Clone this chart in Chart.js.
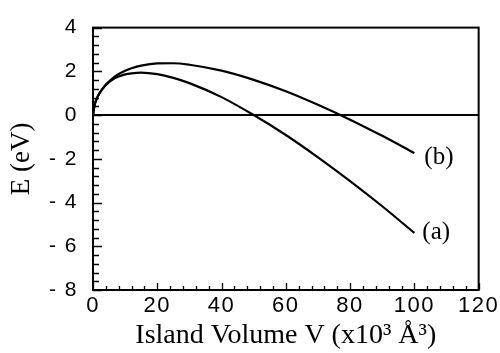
<!DOCTYPE html>
<html>
<head>
<meta charset="utf-8">
<script src="https://cdn.jsdelivr.net/npm/chart.js@4.4.1/dist/chart.umd.min.js"></script>
<style>
html,body{margin:0;padding:0;background:#fff;}
#wrap{width:500px;height:353px;}
</style>
</head>
<body>
<div id="wrap"><canvas id="c" width="500" height="353"></canvas></div>
<script>
// Island volume V (x10^3 Å^3)
const volumes = [0, 0.5, 1, 2, 4, 6, 8, 10, 12, 15, 20, 25, 30, 40, 50, 60, 70, 80, 90, 100];
// Curve (a) energy E (eV)
const energyA = [0, 0.48, 0.70, 1.00, 1.38, 1.61, 1.76, 1.86, 1.91, 1.94, 1.87, 1.70, 1.46, 0.82, 0.00, -0.91, -1.93, -3.02, -4.17, -5.39];
// Curve (b) energy E (eV)
const energyB = [0, 0.45, 0.68, 0.99, 1.40, 1.67, 1.88, 2.03, 2.14, 2.26, 2.36, 2.37, 2.30, 2.03, 1.61, 1.09, 0.47, -0.21, -0.95, -1.74];
const curveLabels = ['(a)', '(b)'];
const xTicks = [0, 20, 40, 60, 80, 100, 120];
const yTicks = [-8, -6, -4, -2, 0, 2, 4];
const zeroLine = [0, 120];

const ptsA = volumes.map((v, i) => ({x: v, y: energyA[i]}));
const ptsB = volumes.map((v, i) => ({x: v, y: energyB[i]}));

const framePlugin = {
  id: 'frame',
  afterDatasetsDraw(chart) {
    const ctx = chart.ctx;
    const a = chart.chartArea;
    const xs = chart.scales.x, ys = chart.scales.y;
    ctx.save();
    ctx.strokeStyle = '#000';
    ctx.lineWidth = 2;
    ctx.strokeRect(a.left, a.top, a.right - a.left, a.bottom - a.top);
    ctx.lineWidth = 1.3;
    ctx.beginPath();
    for (let v = 0; v <= 120; v += 4) {
      const px = Math.round(xs.getPixelForValue(v)) + 0.5;
      const len = (v % 20 === 0) ? 7 : 4;
      ctx.moveTo(px, a.bottom);
      ctx.lineTo(px, a.bottom - len);
    }
    for (let k = 0; k <= 30; k++) {
      const v = -8 + k * 0.4;
      const py = Math.round(ys.getPixelForValue(v)) + 0.5;
      const len = (k % 5 === 0) ? 9 : 6;
      ctx.moveTo(a.left, py);
      ctx.lineTo(a.left + len, py);
    }
    ctx.stroke();
    ctx.restore();
    ctx.letterSpacing = '1.5px';
  },
  afterDraw(chart) {
    const ctx = chart.ctx;
    ctx.letterSpacing = '0px';
    const xs = chart.scales.x, ys = chart.scales.y;
    ctx.save();
    ctx.fillStyle = '#000';
    ctx.font = '25px "Liberation Serif", "Times New Roman", serif';
    ctx.textBaseline = 'middle';
    ctx.textAlign = 'left';
    const lastV = volumes[volumes.length - 1];
    const ya = ys.getPixelForValue(energyA[energyA.length - 1]);
    const yb = ys.getPixelForValue(energyB[energyB.length - 1]);
    const xe = xs.getPixelForValue(lastV);
    ctx.fillText(curveLabels[0], xe + 8, ya);
    ctx.fillText(curveLabels[1], xe + 10, yb + 4);
    ctx.restore();
  }
};

new Chart(document.getElementById('c'), {
  type: 'scatter',
  data: {
    datasets: [
      {label: 'a', data: ptsA, showLine: true, borderColor: '#000', borderWidth: 2.2, pointRadius: 0, cubicInterpolationMode: 'monotone', fill: false},
      {label: 'b', data: ptsB, showLine: true, borderColor: '#000', borderWidth: 2.2, pointRadius: 0, cubicInterpolationMode: 'monotone', fill: false},
      {label: 'zero', data: zeroLine.map(v => ({x: v, y: 0})), showLine: true, borderColor: '#000', borderWidth: 2, pointRadius: 0, fill: false}
    ]
  },
  options: {
    responsive: false,
    animation: false,
    layout: {padding: {left: 0, right: 21, top: 19, bottom: 0}},
    plugins: {legend: {display: false}, tooltip: {enabled: false}},
    scales: {
      x: {
        type: 'linear', min: 0, max: 120,
        afterBuildTicks(s) { s.ticks = xTicks.map(v => ({value: v})); },
        afterFit(s) { s.height = 63; },
        grid: {display: false, drawTicks: false},
        border: {display: false},
        ticks: {color: '#000', font: {family: 'Arial, "Liberation Sans", sans-serif', size: 22}, padding: 3, maxRotation: 0, z: 1},
        title: {display: true, text: 'Island Volume V (x10³ Å³)', color: '#000', font: {family: '"Liberation Serif", "Times New Roman", serif', size: 28}, padding: {top: 0, bottom: 1}}
      },
      y: {
        type: 'linear', min: -8, max: 4,
        afterBuildTicks(s) { s.ticks = yTicks.map(v => ({value: v})); },
        afterFit(s) { s.width = 93; },
        grid: {display: false, drawTicks: false},
        border: {display: false},
        ticks: {color: '#000', font: {family: 'Arial, "Liberation Sans", sans-serif', size: 21}, padding: 15, z: 1,
          callback: v => v < 0 ? '- ' + Math.abs(v) : String(v)},
        title: {display: true, text: 'E (eV)', color: '#000', font: {family: '"Liberation Serif", "Times New Roman", serif', size: 27}, padding: {top: 6, bottom: 0}}
      }
    }
  },
  plugins: [framePlugin]
});
</script>
</body>
</html>
